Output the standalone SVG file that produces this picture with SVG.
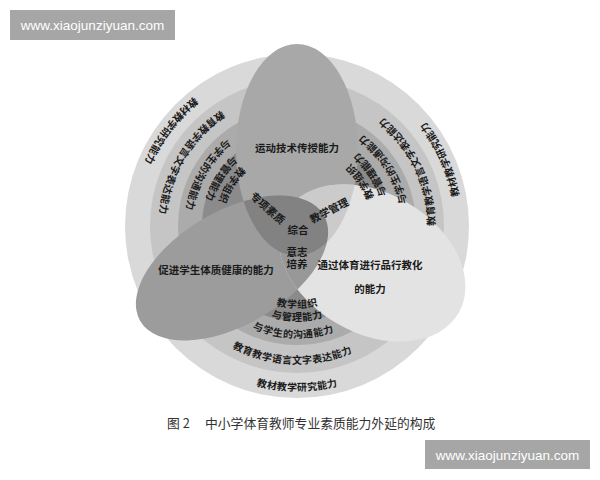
<svg xmlns="http://www.w3.org/2000/svg" xmlns:xlink="http://www.w3.org/1999/xlink" width="600" height="480" viewBox="0 0 600 480">
<style>
.t{font-family:"Noto Sans CJK SC","Noto Sans CJK TC",sans-serif;font-size:10.5px;font-weight:bold;fill:#1a1a1a}
.r{font-family:"Noto Sans CJK SC","Noto Sans CJK TC",sans-serif;font-size:10px;font-weight:bold;fill:#1a1a1a;dominant-baseline:central}
.wm{font-family:"Liberation Sans",Arial,sans-serif;font-size:13.5px;fill:#ffffff}
.cap{font-family:"Noto Sans CJK SC","Noto Sans CJK TC",sans-serif;font-size:12.8px;fill:#333333}
</style>
<defs>
<ellipse id="pT" cx="297" cy="150" rx="61" ry="106"/>
<ellipse id="pL" cx="0" cy="0" rx="106" ry="57" transform="translate(232,268) rotate(-30)"/>
<ellipse id="pR" cx="0" cy="0" rx="100" ry="70" transform="translate(372,263) rotate(30)"/>
<clipPath id="cT"><use xlink:href="#pT"/></clipPath>
<clipPath id="cR"><use xlink:href="#pR"/></clipPath>
<path id="a160" d="M137,226 A160,160 0 1 0 457,226 A160,160 0 1 0 137,226"/>
<path id="a133" d="M164,226 A133,133 0 1 0 430,226 A133,133 0 1 0 164,226"/>
<path id="a107" d="M190,226 A107,107 0 1 0 404,226 A107,107 0 1 0 190,226"/>
<path id="a90" d="M207,226 A90,90 0 1 0 387,226 A90,90 0 1 0 207,226"/>
<path id="a77" d="M220,226 A77,77 0 1 0 374,226 A77,77 0 1 0 220,226"/>
</defs>
<rect width="600" height="480" fill="#ffffff"/>

<g id="ring-research"><circle cx="297" cy="226" r="172" fill="#d9d9d9"/></g>
<g id="ring-language"><circle cx="297" cy="226" r="147" fill="#c5c5c5"/></g>
<g id="ring-communication"><circle cx="297" cy="226" r="119" fill="#ababab"/></g>
<g id="ring-organization"><circle cx="297" cy="226" r="95" fill="#8b8b8b"/></g>

<g id="petal-skill"><use xlink:href="#pT" fill="#a8a8a8"/></g>
<g id="petal-health"><use xlink:href="#pL" fill="#9c9c9c"/></g>
<g id="petal-moral"><use xlink:href="#pR" fill="#e3e3e3"/></g>

<g id="core-will"><g clip-path="url(#cR)"><use xlink:href="#pL" fill="#989898"/></g></g>
<g id="core-management"><g clip-path="url(#cR)"><use xlink:href="#pT" fill="#cbcbcb"/></g></g>
<g id="core-special"><g clip-path="url(#cT)"><use xlink:href="#pL" fill="#828282"/></g></g>

<g id="labels-petals">
<text class="t" x="297" y="152" text-anchor="middle">运动技术传授能力</text>
<text class="t" x="216" y="274" text-anchor="middle">促进学生体质健康的能力</text>
<text class="t" x="370" y="269" text-anchor="middle">通过体育进行品行教化</text>
<text class="t" x="370" y="293" text-anchor="middle">的能力</text>
<text class="t" x="0" y="0" text-anchor="middle" transform="translate(265,211) rotate(41)">专项素质</text>
<text class="t" x="0" y="0" text-anchor="middle" transform="translate(331,214) rotate(-27)">教学管理</text>
<text class="t" x="298" y="234" text-anchor="middle">综合</text>
<text class="t" x="297" y="256" text-anchor="middle">意志</text>
<text class="t" x="297" y="268" text-anchor="middle">培养</text>
</g>

<g id="labels-rings">
<text class="r"><textPath xlink:href="#a160" startOffset="25%" text-anchor="middle">教材教学研究能力</textPath></text>
<text class="r"><textPath xlink:href="#a160" startOffset="89.7%" text-anchor="middle">教材教学研究能力</textPath></text>
<text class="r"><textPath xlink:href="#a160" startOffset="56.9%" text-anchor="middle">教材教学研究能力</textPath></text>
<text class="r"><textPath xlink:href="#a133" startOffset="24.4%" text-anchor="middle">教育教学语言文字表达能力</textPath></text>
<text class="r"><textPath xlink:href="#a133" startOffset="91.4%" text-anchor="middle">教育教学语言文字表达能力</textPath></text>
<text class="r"><textPath xlink:href="#a133" startOffset="57.2%" text-anchor="middle">教育教学语言文字表达能力</textPath></text>
<text class="r"><textPath xlink:href="#a107" startOffset="24.4%" text-anchor="middle">与学生的沟通能力</textPath></text>
<text class="r"><textPath xlink:href="#a107" startOffset="91.7%" text-anchor="middle">与学生的沟通能力</textPath></text>
<text class="r"><textPath xlink:href="#a107" startOffset="59.2%" text-anchor="middle">与学生的沟通能力</textPath></text>
<text class="r"><textPath xlink:href="#a77" startOffset="25%" text-anchor="middle">教学组织</textPath></text>
<text class="r"><textPath xlink:href="#a90" startOffset="25%" text-anchor="middle">与管理能力</textPath></text>
<text class="r"><textPath xlink:href="#a77" startOffset="91.1%" text-anchor="middle">教学组织</textPath></text>
<text class="r"><textPath xlink:href="#a90" startOffset="91.1%" text-anchor="middle">与管理能力</textPath></text>
<text class="r"><textPath xlink:href="#a77" startOffset="59.7%" text-anchor="middle">教学组织</textPath></text>
<text class="r"><textPath xlink:href="#a90" startOffset="59.7%" text-anchor="middle">与管理能力</textPath></text>
</g>

<g id="caption">
<text class="cap" x="167" y="428">图 2</text>
<text class="cap" x="205" y="428">中小学体育教师专业素质能力外延的构成</text>
</g>

<g id="watermark-top">
<rect x="10" y="10" width="165" height="30" fill="#a6a6a6"/>
<text class="wm" x="92.5" y="30" text-anchor="middle">www.xiaojunziyuan.com</text>
</g>
<g id="watermark-bottom">
<rect x="425" y="440" width="165" height="29" fill="#a6a6a6"/>
<text class="wm" x="507.5" y="459.5" text-anchor="middle">www.xiaojunziyuan.com</text>
</g>
</svg>
